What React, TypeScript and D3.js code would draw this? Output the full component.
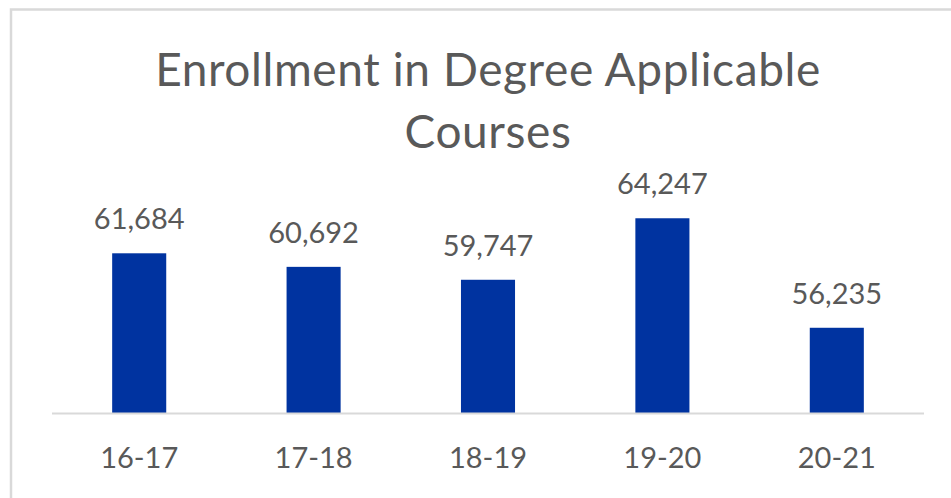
import React, { useEffect, useRef } from "react";
import * as d3 from "d3";

const categories = ["16-17", "17-18", "18-19", "19-20", "20-21"];
const enrollment = [61684, 60692, 59747, 64247, 56235];
const titleLines = ["Enrollment in Degree Applicable", "Courses"];

const App = () => {
  const ref = useRef<SVGSVGElement>(null);

  useEffect(() => {
    const width = 951;
    const height = 498;
    const svg = d3.select(ref.current);
    svg.selectAll("*").remove();

    const font = "Lato, 'Open Sans', sans-serif";
    const textColor = "#595959";

    // chart frame (only top and left edges are visible in the crop)
    svg
      .append("rect")
      .attr("x", 11)
      .attr("y", 9.5)
      .attr("width", width + 20)
      .attr("height", height + 20)
      .attr("fill", "#fff")
      .attr("stroke", "#d9d9d9")
      .attr("stroke-width", 2.5);

    svg
      .append("text")
      .attr("font-family", font)
      .attr("font-size", 46)
      .attr("letter-spacing", 0.6)
      .attr("fill", textColor)
      .attr("text-anchor", "middle")
      .selectAll("tspan")
      .data(titleLines)
      .enter()
      .append("tspan")
      .attr("x", 488)
      .attr("y", (d, i) => 86 + i * 62)
      .text((d) => d);

    const x = d3
      .scaleBand()
      .domain(categories)
      .range([52, 924])
      .paddingInner(0.69)
      .paddingOuter(0.345);

    const y = d3.scaleLinear().domain([50000, 66000]).range([413, 194.3]);

    const data = categories.map((c, i) => ({ cat: c, value: enrollment[i] }));

    svg
      .selectAll("rect.bar")
      .data(data)
      .enter()
      .append("rect")
      .attr("class", "bar")
      .attr("x", (d) => x(d.cat))
      .attr("y", (d) => y(d.value))
      .attr("width", x.bandwidth())
      .attr("height", (d) => y(50000) - y(d.value))
      .attr("fill", "#0033a0");

    // axis baseline
    svg
      .append("line")
      .attr("x1", 52)
      .attr("x2", 924)
      .attr("y1", y(50000) + 0.5)
      .attr("y2", y(50000) + 0.5)
      .attr("stroke", "#d9d9d9")
      .attr("stroke-width", 2);

    svg
      .selectAll("text.value")
      .data(data)
      .enter()
      .append("text")
      .attr("class", "value")
      .attr("x", (d) => x(d.cat) + x.bandwidth() / 2)
      .attr("y", (d) => y(d.value) - 24)
      .attr("text-anchor", "middle")
      .attr("font-family", font)
      .attr("font-size", 29)
      .attr("fill", textColor)
      .text((d) => d3.format(",")(d.value));

    svg
      .selectAll("text.cat")
      .data(categories)
      .enter()
      .append("text")
      .attr("class", "cat")
      .attr("x", (d) => x(d) + x.bandwidth() / 2)
      .attr("y", 468)
      .attr("text-anchor", "middle")
      .attr("font-family", font)
      .attr("font-size", 29)
      .attr("fill", textColor)
      .text((d) => d);
  }, []);

  return (
    <svg
      ref={ref}
      width={951}
      height={498}
      style={{ position: "absolute", left: 0, top: 0, background: "#fff" }}
    />
  );
};

export default App;
